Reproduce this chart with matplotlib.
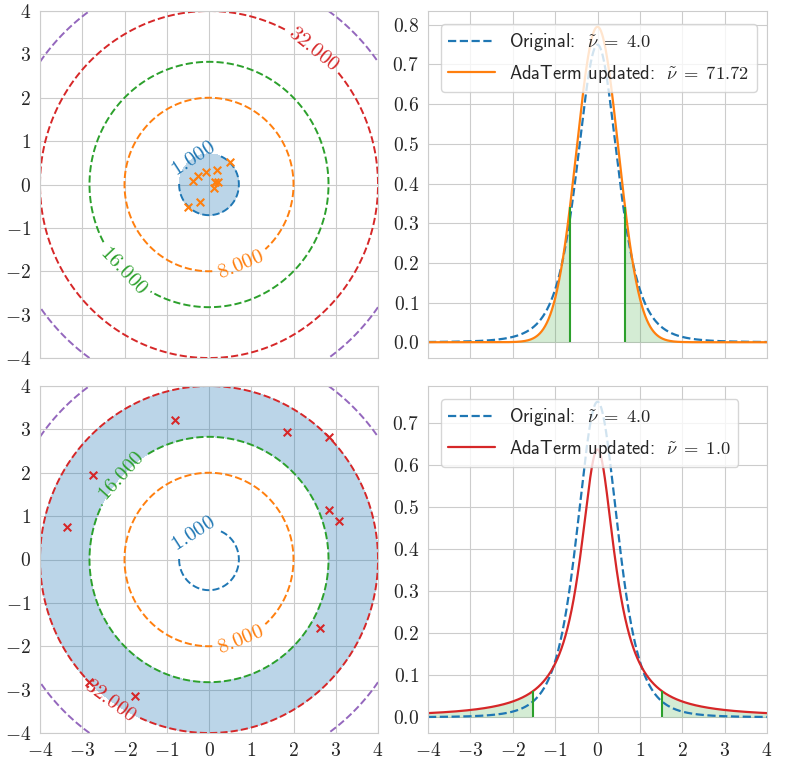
import numpy as np
import matplotlib
matplotlib.use('Agg')
import matplotlib.pyplot as plt
from matplotlib.ticker import FuncFormatter
import seaborn as sns

sns.set_style('whitegrid')
plt.rcParams['mathtext.fontset'] = 'cm'
plt.rcParams['font.family'] = ['cmss10', 'DejaVu Sans']
plt.rcParams['axes.unicode_minus'] = True

# contour levels of 2*(x^2+y^2)
LEVELS = [1, 8, 16, 32, 48]
LEVEL_COLORS = ['C0', 'C1', 'C2', 'C3', 'C4']

# samples
top_x = [0.50, 0.20, -0.08, -0.27, -0.37, 0.14, 0.22, 0.12, -0.21, -0.50]
top_y = [0.51, 0.33, 0.29, 0.19, 0.07, 0.05, 0.05, -0.08, -0.41, -0.52]
bot_x = [-0.81, 1.84, 2.83, -2.74, -3.36, 2.83, 3.08, 2.63, -2.85, -1.75]
bot_y = [3.22, 2.95, 2.83, 1.95, 0.75, 1.13, 0.88, -1.58, -2.83, -3.14]

# t-distribution parameters
NU_ORIG = 4.0
NU_TOP = 71.72
NU_BOT = 1.0
SCALE = 0.5
THR_TOP = 0.65
THR_BOT = 1.53

top_label_pos = [(-0.35, 0.55), (0.75, -1.85), (-2.05, -2.0), (2.45, 3.1)]
bot_label_pos = [(-0.35, 0.55), (0.75, -1.85), (-2.1, 1.95), (-2.3, -3.2)]


def t_pdf(x, nu, s):
    from math import lgamma, pi
    c = np.exp(lgamma((nu + 1) / 2) - lgamma(nu / 2)) / (np.sqrt(nu * pi) * s)
    return c * (1 + (x / s) ** 2 / nu) ** (-(nu + 1) / 2)


W, H = 789, 765
fig = plt.figure(figsize=(W / 100, H / 100), dpi=100)


def box(l, t, r, b):
    return [l / W, 1 - b / H, (r - l) / W, (b - t) / H]


ax_tl = fig.add_axes(box(40, 11, 378, 358))
ax_bl = fig.add_axes(box(40, 386, 378, 733))
ax_tr = fig.add_axes(box(428, 11, 767, 358))
ax_br = fig.add_axes(box(428, 386, 767, 733))

g = np.linspace(-4, 4, 400)
X, Y = np.meshgrid(g, g)
Z = 2 * (X ** 2 + Y ** 2)

int_fmt = FuncFormatter(lambda v, p: r'$%d$' % round(v))
dec_fmt = FuncFormatter(lambda v, p: r'$%.1f$' % v)


def contour_panel(ax, fill_levels, px, py, pc, label_pos):
    ax.contourf(X, Y, Z, levels=fill_levels, colors=['C0'], alpha=0.3)
    cs = ax.contour(X, Y, Z, levels=LEVELS, colors=LEVEL_COLORS,
                    linestyles='dashed', linewidths=1.4)
    ax.clabel(cs, levels=LEVELS[:4], fmt=lambda v: f'${v:.3f}$', fontsize=15,
              manual=label_pos, inline=True)
    ax.scatter(px, py, marker='x', color=pc, s=30, linewidths=1.5, zorder=5)
    ax.set_xlim(-4, 4)
    ax.set_ylim(-4, 4)
    ax.set_xticks(range(-4, 5))
    ax.set_yticks(range(-4, 5))
    ax.xaxis.set_major_formatter(int_fmt)
    ax.yaxis.set_major_formatter(int_fmt)


contour_panel(ax_tl, [0, 1], top_x, top_y, 'C1', top_label_pos)
contour_panel(ax_bl, [16, 32], bot_x, bot_y, 'C3', bot_label_pos)
ax_tl.tick_params(labelbottom=False)

x = np.linspace(-4, 4, 1000)


def pdf_panel(ax, nu_new, color, thr, label):
    p_orig = t_pdf(x, NU_ORIG, SCALE)
    p_new = t_pdf(x, nu_new, SCALE)
    ax.plot(x, p_orig, '--', color='C0', lw=1.6,
            label=r'Original:  $\tilde{\nu}\;=\;%.1f$' % NU_ORIG)
    ax.plot(x, p_new, '-', color=color, lw=1.6, label=label)
    ax.fill_between(x, 0, p_new, where=(x <= -thr), color='C2', alpha=0.2, lw=0)
    ax.fill_between(x, 0, p_new, where=(x >= thr), color='C2', alpha=0.2, lw=0)
    for t in (-thr, thr):
        ax.vlines(t, 0, t_pdf(np.array(t), nu_new, SCALE), color='C2', lw=1.5)
    ax.set_xlim(-4, 4)
    ax.set_xticks(range(-4, 5))
    ax.xaxis.set_major_formatter(int_fmt)
    ax.yaxis.set_major_formatter(dec_fmt)
    ax.legend(loc='upper left', fontsize=13.3, framealpha=0.8, handlelength=2.5,
              borderaxespad=0.7, labelspacing=0.5)


pdf_panel(ax_tr, NU_TOP, 'C1', THR_TOP,
          r'AdaTerm updated:  $\tilde{\nu}\;=\;%.2f$' % NU_TOP)
pdf_panel(ax_br, NU_BOT, 'C3', THR_BOT,
          r'AdaTerm updated:  $\tilde{\nu}\;=\;%.1f$' % NU_BOT)
ax_tr.set_yticks(np.arange(0, 0.81, 0.1))
ax_br.set_yticks(np.arange(0, 0.71, 0.1))
ax_tr.tick_params(labelbottom=False)

for ax in (ax_tl, ax_bl, ax_tr, ax_br):
    ax.tick_params(labelsize=14, pad=3)
    for s in ax.spines.values():
        s.set_color('#cccccc')

fig.savefig('out.png', dpi=100)
